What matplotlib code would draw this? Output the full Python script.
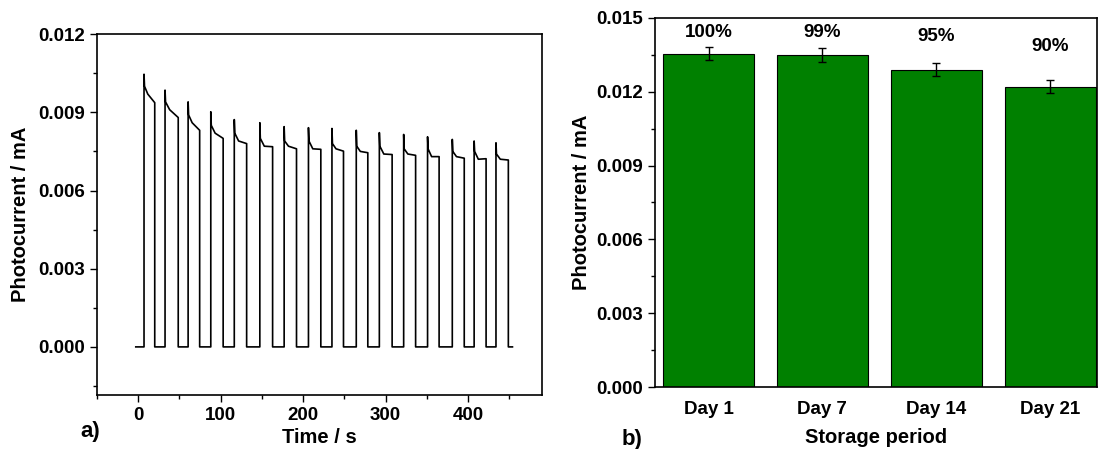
import matplotlib.pyplot as plt
from matplotlib.ticker import MultipleLocator

plt.rcParams['font.family'] = ['Liberation Sans', 'DejaVu Sans']
plt.rcParams['font.weight'] = 'bold'

# panel a: chopped-light photocurrent transient
t_start, t_end = -3, 454
t_on = [7, 32.5, 60.5, 88, 116.5, 147.5, 177, 206.5, 235, 264.5, 292.5, 322, 351, 381, 407.5, 434]
t_off = [20, 48.5, 74.5, 103, 131.5, 163, 192, 221.5, 249, 278.5, 308, 336.5, 365, 395.5, 422, 449]
peak = [0.01046, 0.00985, 0.0094, 0.00902, 0.00872, 0.0086, 0.00845, 0.00841, 0.00838, 0.00831,
        0.00822, 0.00815, 0.00806, 0.00796, 0.0079, 0.00783]
drop = [0.0100, 0.0094, 0.0089, 0.0085, 0.0082, 0.0080, 0.0079, 0.0079, 0.0078, 0.0077,
        0.0077, 0.0076, 0.0076, 0.0075, 0.0075, 0.0074]
knee = [0.0097, 0.0091, 0.0086, 0.0082, 0.0079, 0.0077, 0.0077, 0.0076, 0.0076, 0.0075,
        0.0074, 0.0074, 0.0073, 0.0073, 0.0072, 0.0072]
end = [0.00937, 0.0088, 0.00831, 0.0080, 0.0078, 0.00768, 0.0076, 0.00758, 0.00751, 0.00745,
       0.00738, 0.00735, 0.0073, 0.00724, 0.00722, 0.00717]

# panel b: storage stability
days = ['Day 1', 'Day 7', 'Day 14', 'Day 21']
current = [0.01355, 0.01350, 0.01290, 0.01220]
err = [0.00027, 0.00027, 0.00027, 0.00026]
pct = ['100%', '99%', '95%', '90%']
pct_y = [0.01439, 0.01439, 0.01423, 0.01382]

fig = plt.figure(figsize=(10.99, 4.49), dpi=100)

# ---- panel a
ax1 = fig.add_axes([0.0883, 0.120, 0.405, 0.804])
xs, ys = [t_start], [0.0]
for i in range(len(t_on)):
    dur = t_off[i] - t_on[i]
    xs += [t_on[i], t_on[i], t_on[i] + 0.6, t_on[i] + 0.35 * dur, t_off[i], t_off[i]]
    ys += [0.0, peak[i], drop[i], knee[i], end[i], 0.0]
xs.append(t_end)
ys.append(0.0)
ax1.plot(xs, ys, color='black', lw=1.2)
ax1.set_xlim(-50, 490)
ax1.set_ylim(-0.00185, 0.012)
ax1.set_xticks([0, 100, 200, 300, 400])
ax1.xaxis.set_minor_locator(MultipleLocator(50))
ax1.set_yticks([0, 0.003, 0.006, 0.009, 0.012])
ax1.set_yticklabels(['0.000', '0.003', '0.006', '0.009', '0.012'])
ax1.yaxis.set_minor_locator(MultipleLocator(0.0015))
ax1.set_xlabel('Time / s', fontsize=14.5, fontweight='bold', labelpad=3)
ax1.set_ylabel('Photocurrent / mA', fontsize=14.5, fontweight='bold', labelpad=6)

# ---- panel b
ax2 = fig.add_axes([0.596, 0.138, 0.402, 0.822])
x = range(len(days))
ax2.bar(x, current, width=0.8, color='#008000', edgecolor='black', linewidth=0.8,
        yerr=err, capsize=3, error_kw=dict(elinewidth=1, capthick=1, ecolor='black'))
for i in x:
    ax2.text(i, pct_y[i], pct[i], ha='center', va='center', fontsize=13.5, fontweight='bold')
ax2.set_xlim(-0.47, 3.41)
ax2.set_ylim(0, 0.015)
ax2.set_xticks(list(x))
ax2.set_xticklabels(days)
ax2.set_yticks([0, 0.003, 0.006, 0.009, 0.012, 0.015])
ax2.set_yticklabels(['0.000', '0.003', '0.006', '0.009', '0.012', '0.015'])
ax2.yaxis.set_minor_locator(MultipleLocator(0.0015))
ax2.set_xlabel('Storage period', fontsize=14.5, fontweight='bold', labelpad=7)
ax2.set_ylabel('Photocurrent / mA', fontsize=14.5, fontweight='bold', labelpad=4)

for ax in (ax1, ax2):
    ax.tick_params(which='major', direction='out', length=5, width=1, labelsize=13.5)
    ax.tick_params(which='minor', direction='out', length=3, width=1)
    for lab in ax.get_xticklabels() + ax.get_yticklabels():
        lab.set_fontweight('bold')
    for s in ax.spines.values():
        s.set_linewidth(1.2)
ax2.tick_params(axis='x', which='both', length=0, pad=10)

fig.text(0.073, 0.038, 'a)', fontsize=16, ha='left', va='center')
fig.text(0.566, 0.022, 'b)', fontsize=16, fontweight='bold', ha='left', va='center')

fig.savefig('out.png', dpi=100)
